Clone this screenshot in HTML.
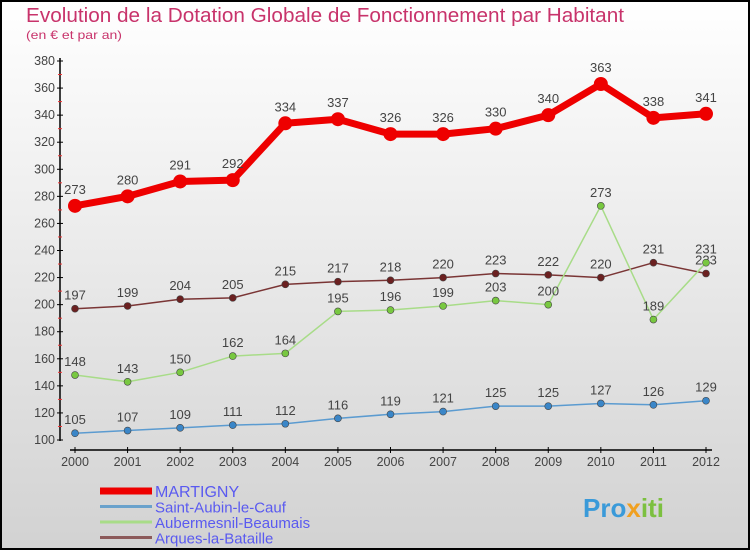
<!DOCTYPE html>
<html><head><meta charset="utf-8"><style>
body{margin:0;}
svg{display:block;font-family:"Liberation Sans",sans-serif;}
</style></head><body>
<svg id="c" width="750" height="550" xmlns="http://www.w3.org/2000/svg">
<defs><linearGradient id="bg" x1="0" y1="0" x2="0" y2="1"><stop offset="0" stop-color="#ffffff"/><stop offset="1" stop-color="#d2d2d2"/></linearGradient></defs>
<rect x="1" y="1" width="748" height="548" fill="url(#bg)" stroke="#000" stroke-width="2"/>
<text x="26" y="22" font-size="20" fill="#c8336b" textLength="598" lengthAdjust="spacingAndGlyphs">Evolution de la Dotation Globale de Fonctionnement par Habitant</text>
<text x="26" y="39" font-size="12" fill="#c8336b" textLength="96" lengthAdjust="spacingAndGlyphs">(en € et par an)</text>
<g id="axes"></g>
<g id="series"></g>
<g id="legend"></g>
<text x="583" y="517" font-size="26" font-weight="bold" fill="#3a9ad9">Pro<tspan fill="#f0a020">x</tspan><tspan fill="#7cc040">iti</tspan></text>
</svg>
<script>
const years=[2000,2001,2002,2003,2004,2005,2006,2007,2008,2009,2010,2011,2012];
const yTicks=[100,120,140,160,180,200,220,240,260,280,300,320,340,360,380];
const names=["MARTIGNY","Saint-Aubin-le-Cauf","Aubermesnil-Beaumais","Arques-la-Bataille"];
const martigny=[273,280,291,292,334,337,326,326,330,340,363,338,341];
const saintAubin=[105,107,109,111,112,116,119,121,125,125,127,126,129];
const aubermesnil=[148,143,150,162,164,195,196,199,203,200,273,189,231];
const arques=[197,199,204,205,215,217,218,220,223,222,220,231,223];
const NS="http://www.w3.org/2000/svg";
const X=i=>75+i*(706-75)/12;
const Y=v=>440-(v-100)*(440-61)/280;
function mk(tag,attrs,parent,txt){const e=document.createElementNS(NS,tag);for(const k in attrs)e.setAttribute(k,attrs[k]);if(txt!==undefined)e.textContent=txt;parent.appendChild(e);return e;}
const ax=document.getElementById('axes');
let e=mk('line',{x1:60,y1:58,x2:60,y2:441,stroke:'#000','stroke-width':1.5},ax);


e=mk('line',{x1:70,y1:450,x2:712,y2:450,stroke:'#000','stroke-width':1.5},ax);


yTicks.forEach((t,i)=>{
  mk('line',{x1:57,y1:Y(t),x2:63,y2:Y(t),stroke:'#000'},ax);
  if(i<yTicks.length-1) mk('line',{x1:58,y1:Y(t+10),x2:62,y2:Y(t+10),stroke:'#e33'},ax);
  const l=mk('text',{x:55,y:Y(t)+4,'font-size':12.5,'text-anchor':'end',fill:'#444'},ax,t);
  
  
});
years.forEach((y,i)=>{
  mk('line',{x1:X(i),y1:447,x2:X(i),y2:453,stroke:'#000'},ax);
  const l=mk('text',{x:X(i),y:466,'font-size':12.5,'text-anchor':'middle',fill:'#444'},ax,y);
  
  
});
const sg=document.getElementById('series');
const cfg=[[arques,'#7a3535','#6b2020',1.5,3.5,'arques-la-bataille'],[aubermesnil,'#a8dc88','#78c840',1.5,3.5,'aubermesnil-beaumais'],[saintAubin,'#5b9bd0','#3a86c8',1.5,3.5,'saint-aubin-le-cauf'],[martigny,'#ee0000','#ee0000',7,7,'martigny']];
cfg.forEach(([d,lc,pc,w,r,n])=>{
  const g=mk('g',{},sg);
  
  
  const p=mk('polyline',{points:d.map((v,i)=>X(i)+','+Y(v)).join(' '),fill:'none',stroke:lc,'stroke-width':w,'stroke-linejoin':'round'},g);
  
  
  d.forEach((v,i)=>{
    const c=mk('circle',{cx:X(i),cy:Y(v),r:r,fill:pc,stroke:n==='martigny'?'none':'#444','stroke-width':0.6},g);
    
    
    const t=mk('text',{x:X(i),y:Y(v)-(n==='martigny'?12:9),'font-size':13,'text-anchor':'middle',fill:'#444'},g,v);
    
    
  });
});
const lg=document.getElementById('legend');
const lcol=['#ee0000','#6aa2cc','#a8dc88','#8c5a5a'];const lw=[7,3,3,3];
names.forEach((n,i)=>{
  const y=491+i*15.5;
  const g=mk('g',{},lg);
  
  
  mk('line',{x1:100,y1:y,x2:152,y2:y,stroke:lcol[i],'stroke-width':lw[i]},g);
  mk('text',{x:155,y:y+6,'font-size':i===0?16:15,fill:'#5a5af0'},g,n);
});
</script>
</body></html>
